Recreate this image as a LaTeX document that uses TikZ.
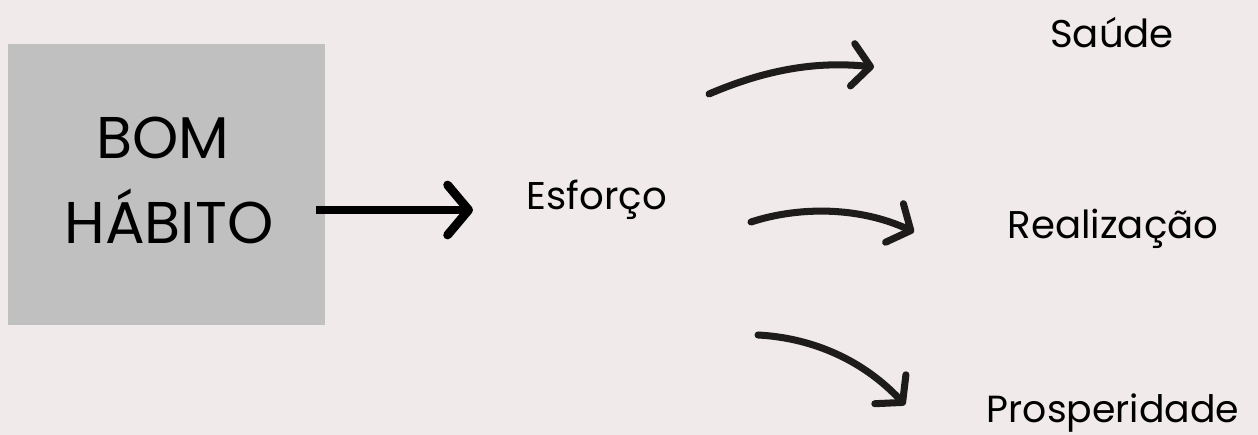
\documentclass[tikz,border=0pt]{standalone}
\usepackage{fontspec}
\setmainfont{Poppins}
\usetikzlibrary{arrows.meta}
\definecolor{fundo}{HTML}{F0EBEA}
\definecolor{caixa}{HTML}{C0C0C0}
\definecolor{traco}{HTML}{1E1B1B}

\begin{document}
\begin{tikzpicture}[x=0.02cm, y=-0.02cm,
        rotulo/.style={anchor=base, inner sep=0pt, font=\fontsize{22}{26}\selectfont},
        titulo/.style={anchor=base, inner sep=0pt, font=\fontsize{33.5}{38}\selectfont},
        seta/.style={line width=4pt, line cap=round, traco,
            -{Straight Barb[length=3.6mm, width=8.5mm, round]}}]
        \def \largura {1258}
        \def \altura {435}

        \fill[fundo] (0,0) rectangle (\largura,\altura);
        \useasboundingbox (0,0) rectangle (\largura,\altura);

        \fill[caixa] (8,44) rectangle (325,325);
        \node[titulo] (bom) at (163,159) {BOM};
        \node[titulo] (habito) at (169,244) {HÁBITO};

        \node[rotulo] (esforco) at (597,210) {Esforço};
        \node[rotulo] (saude) at (1112,48) {Saúde};
        \node[rotulo] (realizacao) at (1113,239) {Realização};
        \node[rotulo, font=\fontsize{21.5}{26}\selectfont] (prosperidade) at (1113,423) {Prosperidade};

        \coordinate (a0) at (316,210);
        \coordinate (a1) at (473,210);
        \draw[line width=5pt, -{Straight Barb[length=4.2mm, width=10mm, round]}] (a0) -- (a1);

        \coordinate (s0) at (709,94);
        \coordinate (s1) at (874,67);
        \coordinate (r0) at (751,222);
        \coordinate (r1) at (914,232);
        \coordinate (p0) at (758,335);
        \coordinate (p1) at (905,405);

        \draw[seta] (s0) .. controls (765,70) and (815,61) .. (s1);
        \draw[seta] (r0) .. controls (800,206) and (860,207) .. (r1);
        \draw[seta] (p0) .. controls (815,338) and (865,362) .. (p1);

    \end{tikzpicture}
\end{document}
